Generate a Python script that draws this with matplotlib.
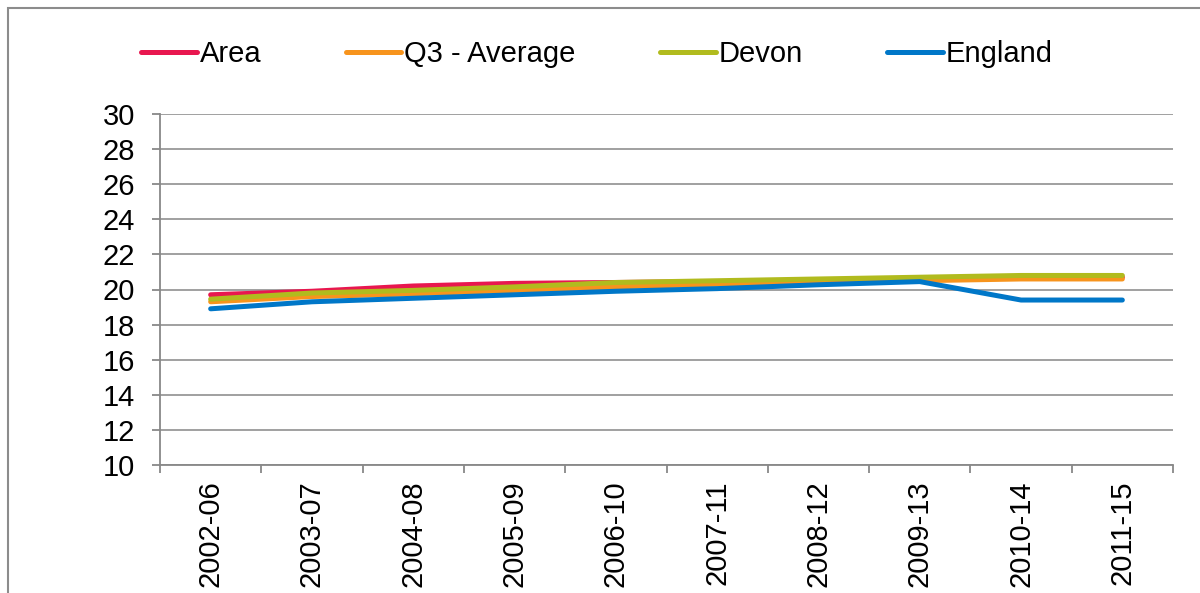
import matplotlib
matplotlib.use("Agg")
import matplotlib.pyplot as plt
from matplotlib.patches import Rectangle

categories = ["2002-06", "2003-07", "2004-08", "2005-09", "2006-10",
              "2007-11", "2008-12", "2009-13", "2010-14", "2011-15"]
area = [19.7, 19.9, 20.2, 20.35, 20.4, 20.45, 20.5, 20.6, 20.7, 20.7]
q3_average = [19.3, 19.6, 19.75, 19.95, 20.15, 20.3, 20.35, 20.5, 20.6, 20.6]
devon = [19.45, 19.8, 19.95, 20.15, 20.4, 20.5, 20.6, 20.7, 20.8, 20.8]
england = [18.9, 19.3, 19.5, 19.7, 19.9, 20.05, 20.27, 20.45, 19.4, 19.4]
y_ticks = list(range(10, 31, 2))

plt.rcParams['font.family'] = ['Liberation Sans', 'DejaVu Sans']
FS = 21

fig = plt.figure(figsize=(12, 5.93), dpi=100)
ax = fig.add_axes([160/1200, 1-465/593, (1173-160)/1200, (465-114)/593])

# figure border
fig.patches.append(Rectangle((8/1200, -0.1), 1.2, 1 - 8/593 + 0.1,
                             transform=fig.transFigure, fill=False,
                             edgecolor='#8c8c8c', linewidth=1.5))

x = list(range(len(categories)))
series = [("Area", area, '#E8174F'),
          ("Q3 - Average", q3_average, '#F7941D'),
          ("Devon", devon, '#B1BB1E'),
          ("England", england, '#0077C8')]
for name, vals, col in series:
    ax.plot(x, vals, color=col, lw=3.6, label=name, solid_capstyle='round',
            solid_joinstyle='round')

ax.set_xlim(-0.5, len(categories) - 0.5)
ax.set_ylim(10, 30)
ax.set_yticks(y_ticks)
ax.yaxis.grid(True, color='#999999', lw=1.3)
ax.set_axisbelow(True)

ax.set_xticks([i - 0.5 for i in range(len(categories) + 1)])
ax.set_xticklabels([])
ax.set_xticks(x, minor=True)
ax.set_xticklabels(categories, minor=True, rotation=90, fontsize=FS, va='top')
ax.tick_params(axis='x', which='major', length=6, width=1.3, color='#888888', direction='out')
ax.tick_params(axis='x', which='minor', length=0, pad=11)
ax.tick_params(axis='y', length=6, width=1.3, color='#888888', labelsize=FS, pad=12)

for s in ['top', 'right']:
    ax.spines[s].set_visible(False)
for s in ['left', 'bottom']:
    ax.spines[s].set_color('#888888')
    ax.spines[s].set_linewidth(1.3)

ax.legend(loc='center', bbox_to_anchor=(597/1200, 1-54/593),
          bbox_transform=fig.transFigure, ncol=4, frameon=False,
          fontsize=FS, handlelength=1.9, handletextpad=0.1,
          columnspacing=2.9)

fig.savefig("out.png", dpi=100)
